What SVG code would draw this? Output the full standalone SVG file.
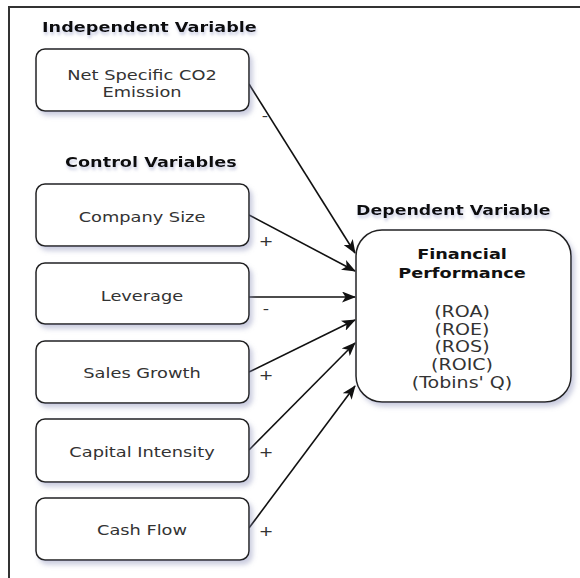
<svg xmlns="http://www.w3.org/2000/svg" width="580" height="578" viewBox="0 0 580 578">
<defs>
<filter id="sh" x="-20%" y="-20%" width="140%" height="150%">
<feGaussianBlur in="SourceAlpha" stdDeviation="2.5"/>
<feOffset dx="3" dy="4" result="b"/>
<feFlood flood-color="#8a8fb8" flood-opacity="0.45"/>
<feComposite in2="b" operator="in"/>
<feMerge><feMergeNode/><feMergeNode in="SourceGraphic"/></feMerge>
</filter>
<filter id="tsh" x="-10%" y="-30%" width="120%" height="180%">
<feGaussianBlur in="SourceAlpha" stdDeviation="1.5"/>
<feOffset dx="1" dy="3" result="b"/>
<feFlood flood-color="#9aa0c8" flood-opacity="0.5"/>
<feComposite in2="b" operator="in"/>
<feMerge><feMergeNode/><feMergeNode in="SourceGraphic"/></feMerge>
</filter>
<marker id="arr" viewBox="0 0 14 11" refX="13" refY="5.5" markerWidth="14" markerHeight="11" markerUnits="userSpaceOnUse" orient="auto">
<path d="M0,0 L14,5.5 L0,11 L3.5,5.5 Z" fill="#111"/>
</marker>
</defs>
<style>
.box{fill:#fff;stroke:#222;stroke-width:1.5;filter:url(#sh)}
.t{font-family:"DejaVu Sans",Verdana,sans-serif;font-size:14px;fill:#333;text-anchor:middle}
.m{font-size:15px}
.b{font-weight:bold;fill:#111;font-size:14.5px}
.h{font-family:"DejaVu Sans",Verdana,sans-serif;font-size:14.5px;font-weight:bold;fill:#111;filter:url(#tsh)}
.c{stroke:#111;stroke-width:1.6;fill:none;marker-end:url(#arr)}
.l{font-family:"DejaVu Sans",Verdana,sans-serif;font-size:14px;fill:#333;text-anchor:middle}
</style>
<rect width="580" height="578" fill="#fff"/>
<path d="M9,578 V7 H580" fill="none" stroke="#333" stroke-width="2"/>
<text class="h" transform="translate(42 0) scale(1.22 1)" x="0" y="32">Independent Variable</text>
<text class="h" transform="translate(65 0) scale(1.22 1)" x="0" y="167">Control Variables</text>
<text class="h" transform="translate(356 0) scale(1.2 1)" x="0" y="215">Dependent Variable</text>
<g id="connectors">
<line class="c" x1="249" y1="84" x2="355" y2="253"/>
<line class="c" x1="249" y1="215" x2="355" y2="271"/>
<line class="c" x1="249" y1="297" x2="355" y2="297"/>
<line class="c" x1="249" y1="372" x2="355" y2="320"/>
<line class="c" x1="249" y1="450" x2="355" y2="343"/>
<line class="c" x1="249" y1="528" x2="355" y2="386"/>
<text class="l" transform="translate(265 0) scale(1.25 1)" x="0" y="121">-</text>
<text class="l" transform="translate(266 0) scale(1.25 1)" x="0" y="246">+</text>
<text class="l" transform="translate(266 0) scale(1.25 1)" x="0" y="314">-</text>
<text class="l" transform="translate(266 0) scale(1.25 1)" x="0" y="380">+</text>
<text class="l" transform="translate(266 0) scale(1.25 1)" x="0" y="457">+</text>
<text class="l" transform="translate(266 0) scale(1.25 1)" x="0" y="536">+</text>
</g>
<g id="n-co2">
<rect class="box" x="36" y="49" width="213" height="62" rx="9"/>
<text class="t" transform="translate(142 0) scale(1.27 1)" x="0" y="80">Net Specific CO2</text>
<text class="t" transform="translate(142 0) scale(1.27 1)" x="0" y="97">Emission</text>
</g>
<g id="n-size">
<rect class="box" x="36" y="184" width="213" height="62" rx="9"/>
<text class="t" transform="translate(142 0) scale(1.27 1)" x="0" y="222">Company Size</text>
</g>
<g id="n-lev">
<rect class="box" x="36" y="263" width="213" height="61" rx="9"/>
<text class="t" transform="translate(142 0) scale(1.27 1)" x="0" y="301">Leverage</text>
</g>
<g id="n-sales">
<rect class="box" x="36" y="341" width="213" height="62" rx="9"/>
<text class="t" transform="translate(142 0) scale(1.27 1)" x="0" y="378">Sales Growth</text>
</g>
<g id="n-cap">
<rect class="box" x="36" y="419" width="213" height="63" rx="9"/>
<text class="t" transform="translate(142 0) scale(1.27 1)" x="0" y="457">Capital Intensity</text>
</g>
<g id="n-cash">
<rect class="box" x="36" y="498" width="213" height="62" rx="9"/>
<text class="t" transform="translate(142 0) scale(1.27 1)" x="0" y="535">Cash Flow</text>
</g>
<g id="n-fin">
<rect class="box" x="356" y="230" width="215" height="172" rx="26"/>
<text class="t b" transform="translate(462 0) scale(1.22 1)" x="0" y="259">Financial</text>
<text class="t b" transform="translate(462 0) scale(1.22 1)" x="0" y="278">Performance</text>
<text class="t m" transform="translate(462 0) scale(1.27 1)" x="0" y="317">(ROA)</text>
<text class="t m" transform="translate(462 0) scale(1.27 1)" x="0" y="335">(ROE)</text>
<text class="t m" transform="translate(462 0) scale(1.27 1)" x="0" y="352">(ROS)</text>
<text class="t m" transform="translate(462 0) scale(1.27 1)" x="0" y="370">(ROIC)</text>
<text class="t m" transform="translate(462 0) scale(1.27 1)" x="0" y="388">(Tobins' Q)</text>
</g>
</svg>
